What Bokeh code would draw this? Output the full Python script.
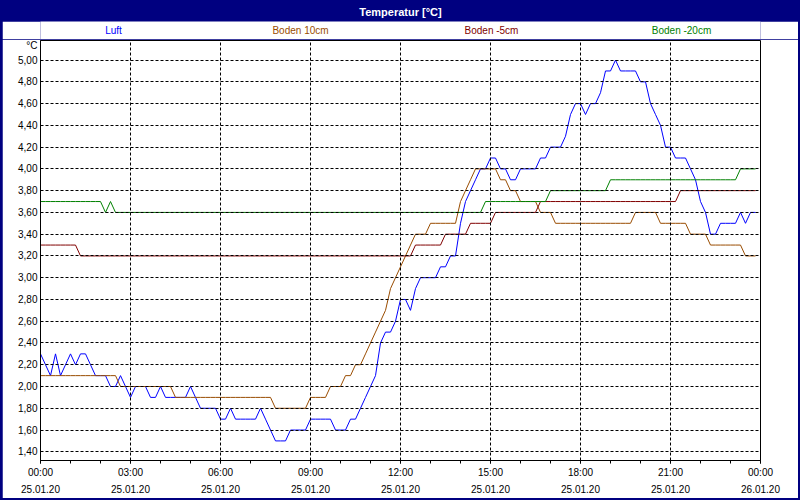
from bokeh.plotting import figure
from bokeh.models import Range1d, FixedTicker
from bokeh.layouts import column
from bokeh.embed import file_html
from bokeh.resources import INLINE
from bokeh.core.properties import value

# ---------------- data ----------------
title_text = "Temperatur [°C]"
unit_label = "°C"
series_names = ["Luft", "Boden 10cm", "Boden -5cm", "Boden -20cm"]
series_colors = ["#0000ff", "#994c00", "#800000", "#008000"]

# one sample every 10 minutes, 25.01.20 00:00 ... 23:50
minutes = list(range(0, 1440, 10))

luft = [
    2.3, 2.2, 2.1, 2.3, 2.1, 2.2, 2.3, 2.2, 2.3, 2.3, 2.2, 2.1,
    2.1, 2.1, 2.0, 2.0, 2.1, 2.0, 1.9, 2.0, 2.0, 2.0, 1.9, 1.9,
    2.0, 1.9, 1.9, 1.9, 1.9, 1.9, 2.0, 1.9, 1.8, 1.8, 1.8, 1.8,
    1.7, 1.7, 1.8, 1.7, 1.7, 1.7, 1.7, 1.7, 1.8, 1.7, 1.6, 1.5,
    1.5, 1.5, 1.6, 1.6, 1.6, 1.6, 1.7, 1.7, 1.7, 1.7, 1.7, 1.6,
    1.6, 1.6, 1.7, 1.7, 1.8, 1.9, 2.0, 2.1, 2.4, 2.5, 2.5, 2.6,
    2.8, 2.8, 2.7, 2.9, 3.0, 3.0, 3.0, 3.0, 3.1, 3.1, 3.2, 3.2,
    3.5, 3.7, 3.8, 3.9, 4.0, 4.0, 4.1, 4.1, 4.0, 4.0, 3.9, 3.9,
    4.0, 4.0, 4.0, 4.0, 4.1, 4.1, 4.2, 4.2, 4.2, 4.3, 4.5, 4.6,
    4.6, 4.5, 4.6, 4.6, 4.7, 4.9, 4.9, 5.0, 4.9, 4.9, 4.9, 4.9,
    4.8, 4.8, 4.6, 4.5, 4.4, 4.2, 4.2, 4.1, 4.1, 4.1, 4.0, 3.9,
    3.7, 3.6, 3.4, 3.4, 3.5, 3.5, 3.5, 3.5, 3.6, 3.5, 3.6, 3.6,
]

boden_10 = [
    2.1, 2.1, 2.1, 2.1, 2.1, 2.1, 2.1, 2.1, 2.1, 2.1, 2.1, 2.1,
    2.1, 2.1, 2.1, 2.1, 2.0, 2.0, 2.0, 2.0, 2.0, 2.0, 2.0, 2.0,
    2.0, 2.0, 2.0, 1.9, 1.9, 1.9, 1.9, 1.9, 1.9, 1.9, 1.9, 1.9,
    1.9, 1.9, 1.9, 1.9, 1.9, 1.9, 1.9, 1.9, 1.9, 1.9, 1.9, 1.8,
    1.8, 1.8, 1.8, 1.8, 1.8, 1.8, 1.9, 1.9, 1.9, 1.9, 2.0, 2.0,
    2.0, 2.1, 2.1, 2.2, 2.2, 2.3, 2.4, 2.5, 2.6, 2.7, 2.9, 3.0,
    3.1, 3.2, 3.3, 3.4, 3.4, 3.4, 3.5, 3.5, 3.5, 3.5, 3.5, 3.5,
    3.7, 3.8, 3.9, 4.0, 4.0, 4.0, 4.0, 4.0, 3.9, 3.9, 3.8, 3.8,
    3.7, 3.7, 3.7, 3.7, 3.6, 3.6, 3.6, 3.5, 3.5, 3.5, 3.5, 3.5,
    3.5, 3.5, 3.5, 3.5, 3.5, 3.5, 3.5, 3.5, 3.5, 3.5, 3.5, 3.6,
    3.6, 3.6, 3.6, 3.6, 3.5, 3.5, 3.5, 3.5, 3.5, 3.5, 3.4, 3.4,
    3.4, 3.4, 3.3, 3.3, 3.3, 3.3, 3.3, 3.3, 3.3, 3.2, 3.2, 3.2,
]

boden_m5 = [
    3.3, 3.3, 3.3, 3.3, 3.3, 3.3, 3.3, 3.3, 3.2, 3.2, 3.2, 3.2,
    3.2, 3.2, 3.2, 3.2, 3.2, 3.2, 3.2, 3.2, 3.2, 3.2, 3.2, 3.2,
    3.2, 3.2, 3.2, 3.2, 3.2, 3.2, 3.2, 3.2, 3.2, 3.2, 3.2, 3.2,
    3.2, 3.2, 3.2, 3.2, 3.2, 3.2, 3.2, 3.2, 3.2, 3.2, 3.2, 3.2,
    3.2, 3.2, 3.2, 3.2, 3.2, 3.2, 3.2, 3.2, 3.2, 3.2, 3.2, 3.2,
    3.2, 3.2, 3.2, 3.2, 3.2, 3.2, 3.2, 3.2, 3.2, 3.2, 3.2, 3.2,
    3.2, 3.2, 3.2, 3.3, 3.3, 3.3, 3.3, 3.3, 3.3, 3.4, 3.4, 3.4,
    3.4, 3.4, 3.5, 3.5, 3.5, 3.5, 3.5, 3.6, 3.6, 3.6, 3.6, 3.6,
    3.6, 3.6, 3.6, 3.6, 3.7, 3.7, 3.7, 3.7, 3.7, 3.7, 3.7, 3.7,
    3.7, 3.7, 3.7, 3.7, 3.7, 3.7, 3.7, 3.7, 3.7, 3.7, 3.7, 3.7,
    3.7, 3.7, 3.7, 3.7, 3.7, 3.7, 3.7, 3.7, 3.8, 3.8, 3.8, 3.8,
    3.8, 3.8, 3.8, 3.8, 3.8, 3.8, 3.8, 3.8, 3.8, 3.8, 3.8, 3.8,
]

boden_m20 = [
    3.7, 3.7, 3.7, 3.7, 3.7, 3.7, 3.7, 3.7, 3.7, 3.7, 3.7, 3.7,
    3.7, 3.6, 3.7, 3.6, 3.6, 3.6, 3.6, 3.6, 3.6, 3.6, 3.6, 3.6,
    3.6, 3.6, 3.6, 3.6, 3.6, 3.6, 3.6, 3.6, 3.6, 3.6, 3.6, 3.6,
    3.6, 3.6, 3.6, 3.6, 3.6, 3.6, 3.6, 3.6, 3.6, 3.6, 3.6, 3.6,
    3.6, 3.6, 3.6, 3.6, 3.6, 3.6, 3.6, 3.6, 3.6, 3.6, 3.6, 3.6,
    3.6, 3.6, 3.6, 3.6, 3.6, 3.6, 3.6, 3.6, 3.6, 3.6, 3.6, 3.6,
    3.6, 3.6, 3.6, 3.6, 3.6, 3.6, 3.6, 3.6, 3.6, 3.6, 3.6, 3.6,
    3.6, 3.6, 3.6, 3.6, 3.6, 3.7, 3.7, 3.7, 3.7, 3.7, 3.7, 3.7,
    3.7, 3.7, 3.7, 3.7, 3.7, 3.7, 3.8, 3.8, 3.8, 3.8, 3.8, 3.8,
    3.8, 3.8, 3.8, 3.8, 3.8, 3.8, 3.9, 3.9, 3.9, 3.9, 3.9, 3.9,
    3.9, 3.9, 3.9, 3.9, 3.9, 3.9, 3.9, 3.9, 3.9, 3.9, 3.9, 3.9,
    3.9, 3.9, 3.9, 3.9, 3.9, 3.9, 3.9, 3.9, 4.0, 4.0, 4.0, 4.0,
]

x_ticks = [0, 3, 6, 9, 12, 15, 18, 21, 24]
x_tick_times = ["00:00", "03:00", "06:00", "09:00", "12:00", "15:00", "18:00", "21:00", "00:00"]
x_tick_dates = ["25.01.20", "25.01.20", "25.01.20", "25.01.20", "25.01.20",
                "25.01.20", "25.01.20", "25.01.20", "26.01.20"]
y_ticks = [1.4, 1.6, 1.8, 2.0, 2.2, 2.4, 2.6, 2.8, 3.0, 3.2, 3.4, 3.6, 3.8, 4.0, 4.2, 4.4, 4.6, 4.8, 5.0]
y_tick_labels = ["1,40", "1,60", "1,80", "2,00", "2,20", "2,40", "2,60", "2,80", "3,00", "3,20",
                 "3,40", "3,60", "3,80", "4,00", "4,20", "4,40", "4,60", "4,80", "5,00"]

# ---------------- styling ----------------
NAVY = "#000080"
FONT = "Liberation Sans"
FS = "10px"

hours = [m / 60 for m in minutes]
series_values = [luft, boden_10, boden_m5, boden_m20]
x_range = Range1d(0, 24)

# header bar
header = figure(width=800, height=21, x_range=(0, 1), y_range=(0, 1),
                x_axis_type=None, y_axis_type=None, toolbar_location=None,
                output_backend="svg", min_border=0)
header.background_fill_color = NAVY
header.border_fill_color = NAVY
header.outline_line_color = None
header.grid.visible = False
header.text(x=[0.5], y=[0.45], text=[title_text], text_align="center", text_baseline="middle",
            text_color="white", text_font=value(FONT), text_font_style="bold",
            text_font_size="11px")

# strip with the coloured series names (shares the time axis of the chart)
strip = figure(width=796, height=18, x_range=x_range, y_range=(0, 1),
               x_axis_type=None, y_axis_type=None, toolbar_location=None,
               output_backend="svg", min_border_left=38, min_border_right=38,
               min_border_top=0, min_border_bottom=0, margin=(0, 2, 0, 2))
strip.background_fill_color = "white"
strip.border_fill_color = "white"
strip.outline_line_color = None
strip.grid.visible = False
legend_x = [2.433, 8.667, 15.033, 21.367]
strip.text(x=legend_x, y=[0.5] * 4, text=series_names, text_color=series_colors,
           text_align="center", text_baseline="middle", text_font=value(FONT),
           text_font_size=FS)

# main chart
p = figure(width=796, height=459, x_range=x_range, y_range=Range1d(1.32, 5.18),
           toolbar_location=None, output_backend="svg",
           min_border_left=38, min_border_right=38, min_border_top=1, min_border_bottom=37,
           margin=(0, 2, 2, 2))
p.background_fill_color = "white"
p.border_fill_color = "white"
p.outline_line_color = "black"
p.outline_line_width = 1

for name, color, vals in zip(series_names, series_colors, series_values):
    p.line(hours, vals, line_color=color, line_width=1)

# x axis
p.xaxis.ticker = FixedTicker(ticks=x_ticks, minor_ticks=list(range(25)))
p.xaxis.major_label_overrides = {t: f"{a}\n{b}" for t, a, b in zip(x_ticks, x_tick_times, x_tick_dates)}
p.xaxis.major_tick_out = 3
p.xaxis.major_tick_in = 0
p.xaxis.minor_tick_out = 3
p.xaxis.minor_tick_in = 0
p.xaxis.major_label_standoff = 3
p.xaxis.major_label_text_line_height = 1.6

# y axis (unit shown as an extra top label)
unit_pos = 5.134
p.yaxis.ticker = FixedTicker(ticks=y_ticks + [unit_pos])
overrides = {t: s for t, s in zip(y_ticks, y_tick_labels)}
overrides[unit_pos] = unit_label
p.yaxis.major_label_overrides = overrides
p.yaxis.major_tick_out = 0
p.yaxis.major_tick_in = 0
p.yaxis.minor_tick_out = 0
p.yaxis.minor_tick_in = 0
p.yaxis.major_label_standoff = 3

for ax in (p.xaxis, p.yaxis):
    ax.axis_line_color = "black"
    ax.major_tick_line_color = "black"
    ax.minor_tick_line_color = "black"
    ax.major_label_text_font = FONT
    ax.major_label_text_font_size = FS
    ax.major_label_text_color = "black"

# grid (drawn over the series, like the original)
p.xgrid.ticker = FixedTicker(ticks=x_ticks[1:-1])
p.ygrid.ticker = FixedTicker(ticks=y_ticks)
for g in (p.xgrid, p.ygrid):
    g.grid_line_color = "black"
    g.grid_line_dash = "3 2"
    g.grid_line_width = 1
    g.level = "overlay"

layout = column(header, strip, p, styles={"background-color": NAVY})
open("out.html", "w").write(file_html(layout, INLINE))
